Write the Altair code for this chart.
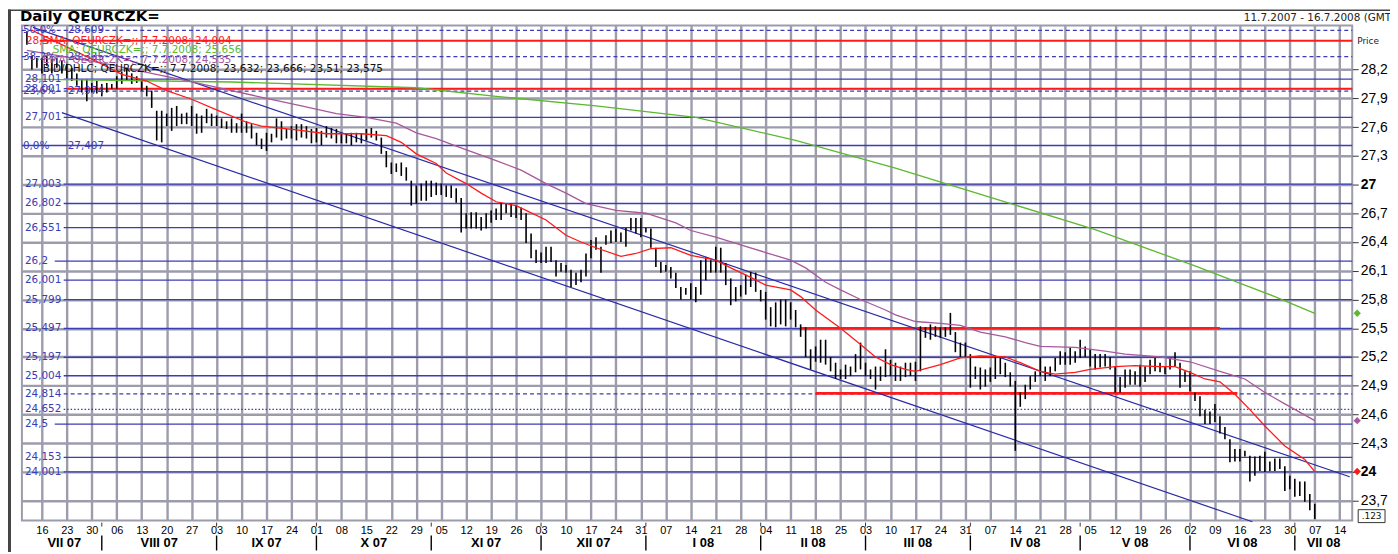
import altair as alt
import pandas as pd
import numpy as np

FIRST_DAY = "2007-07-11"   # first bar
ORIGIN = "2007-07-16"      # first Monday = session 0

# ---- daily bars (high / low), one row per week ----
bar_high = [
    28.60, 28.34, 28.32,
    28.32, 28.34, 28.31, 28.32, 28.29,
    28.26, 28.22, 28.16, 28.10, 28.10,
    28.06, 28.08, 28.05, 28.06, 28.05,
    28.13, 28.18, 28.22, 28.16, 28.13,
    28.08, 28.03, 27.98, 27.77, 27.77,
    27.74, 27.80, 27.82, 27.74, 27.75,
    27.82, 27.74, 27.72, 27.79, 27.74,
    27.72, 27.69, 27.66, 27.69, 27.64,
    27.74, 27.66, 27.63, 27.54, 27.48,
    27.54, 27.53, 27.69, 27.66, 27.58,
    27.61, 27.63, 27.63, 27.61, 27.58,
    27.59, 27.56, 27.61, 27.59, 27.58,
    27.54, 27.53, 27.54, 27.54, 27.53,
    27.58, 27.59, 27.56, 27.49, 27.35,
    27.23, 27.22, 27.23, 27.18, 27.04,
    26.99, 27.01, 27.04, 27.04, 27.02,
    27.01, 26.99, 26.99, 26.96, 26.86,
    26.70, 26.71, 26.71, 26.66, 26.70,
    26.73, 26.75, 26.81, 26.80, 26.80,
    26.78, 26.76, 26.70, 26.49, 26.32,
    26.29, 26.35, 26.35, 26.21, 26.18,
    26.16, 26.11, 26.08, 26.11, 26.28,
    26.42, 26.45, 26.35, 26.47, 26.52,
    26.54, 26.50, 26.55, 26.65, 26.65,
    26.65, 26.55, 26.54, 26.34, 26.19,
    26.16, 26.14, 26.08, 25.93, 25.92,
    25.97, 25.93, 26.21, 26.24, 26.21,
    26.35, 26.34, 26.18, 26.02, 25.93,
    25.95, 26.06, 26.09, 26.08, 25.90,
    25.88, 25.72, 25.77, 25.80, 25.80,
    25.77, 25.69, 25.54, 25.51, 25.28,
    25.31, 25.38, 25.38, 25.20, 25.14,
    25.07, 25.12, 25.10, 25.23, 25.35,
    25.14, 25.07, 25.10, 25.10, 25.28,
    25.17, 25.14, 25.10, 25.14, 25.14,
    25.15, 25.52, 25.51, 25.54, 25.52,
    25.51, 25.51, 25.66, 25.46, 25.35,
    25.35, 25.23, 25.10, 25.09, 25.07,
    25.09, 25.20, 25.19, 25.14, 25.04,
    24.95, 24.83, 24.91, 25.00, 25.05,
    25.20, 25.10, 25.10, 25.19, 25.26,
    25.25, 25.30, 25.26, 25.38, 25.31,
    25.28, 25.23, 25.23, 25.23, 25.20,
    25.10, 24.99, 25.07, 25.07, 25.05,
    25.12, 25.10, 25.17, 25.19, 25.14,
    25.10, 25.19, 25.25, 25.14, 25.05,
    25.05, 24.83, 24.79, 24.65, 24.63,
    24.71, 24.58, 24.47, 24.34, 24.24,
    24.24, 24.22, 24.17, 24.16, 24.17,
    24.21, 24.11, 24.14, 24.14, 24.06,
    23.96, 23.93, 23.90, 23.90, 23.77,
    23.666,
]
bar_low = [
    28.46, 28.20, 28.22,
    28.16, 28.24, 28.16, 28.22, 28.16,
    28.11, 28.08, 28.03, 27.96, 27.87,
    27.96, 27.95, 27.92, 27.96, 28.00,
    28.00, 28.05, 28.08, 28.05, 28.06,
    27.98, 27.92, 27.80, 27.46, 27.44,
    27.61, 27.56, 27.61, 27.63, 27.63,
    27.61, 27.53, 27.54, 27.64, 27.61,
    27.61, 27.59, 27.58, 27.54, 27.54,
    27.54, 27.54, 27.48, 27.41, 27.37,
    27.35, 27.44, 27.49, 27.46, 27.48,
    27.48, 27.46, 27.49, 27.48, 27.43,
    27.44, 27.41, 27.49, 27.48, 27.43,
    27.43, 27.43, 27.41, 27.44, 27.43,
    27.46, 27.49, 27.46, 27.32, 27.18,
    27.11, 27.13, 27.09, 27.04, 26.78,
    26.80, 26.83, 26.83, 26.87, 26.89,
    26.89, 26.87, 26.86, 26.81, 26.50,
    26.54, 26.54, 26.54, 26.52, 26.54,
    26.60, 26.63, 26.63, 26.70, 26.66,
    26.65, 26.63, 26.39, 26.23, 26.18,
    26.18, 26.18, 26.19, 26.04, 26.09,
    26.08, 25.93, 25.95, 25.98, 26.04,
    26.23, 26.32, 26.08, 26.37, 26.39,
    26.40, 26.40, 26.35, 26.52, 26.49,
    26.45, 26.50, 26.34, 26.14, 26.08,
    26.09, 26.02, 25.92, 25.80, 25.85,
    25.80, 25.77, 25.85, 26.00, 26.08,
    26.08, 26.08, 25.95, 25.74, 25.78,
    25.83, 25.85, 25.93, 25.88, 25.78,
    25.59, 25.52, 25.51, 25.54, 25.52,
    25.59, 25.51, 25.41, 25.20, 25.07,
    25.15, 25.14, 25.12, 25.05, 24.97,
    24.97, 24.97, 25.00, 25.04, 25.07,
    25.00, 24.97, 24.86, 24.95, 24.99,
    25.00, 24.95, 24.95, 24.99, 25.00,
    24.95, 25.05, 25.40, 25.38, 25.41,
    25.40, 25.41, 25.43, 25.25, 25.20,
    25.19, 24.88, 24.97, 24.86, 24.89,
    24.94, 24.97, 25.02, 24.99, 24.89,
    24.22, 24.68, 24.76, 24.86, 24.94,
    25.00, 24.95, 25.00, 25.05, 25.12,
    25.12, 25.12, 25.14, 25.19, 25.20,
    25.10, 25.07, 25.09, 25.10, 25.07,
    24.83, 24.83, 24.88, 24.91, 24.91,
    24.89, 24.94, 25.02, 25.05, 25.04,
    25.02, 25.07, 25.10, 24.88, 24.94,
    24.84, 24.74, 24.58, 24.50, 24.50,
    24.52, 24.40, 24.34, 24.10, 24.11,
    24.11, 24.16, 23.90, 23.96, 24.01,
    24.00, 24.01, 24.01, 24.03, 23.80,
    23.82, 23.74, 23.75, 23.69, 23.60,
    23.51,
]

# ---- indicator lines (session number, value) ----
sma_fast_session = [-2, 4, 10, 16, 21, 25, 30, 35, 41, 44, 51, 57, 64, 69, 72, 75, 79, 81, 85, 88,
                    91, 95, 97, 101, 105, 108, 111, 116, 119, 122, 126, 130, 135, 138, 142, 145, 150,
                    152, 155, 160, 164, 167, 170, 173, 175, 180, 184, 188, 193, 196, 200, 203, 207,
                    210, 215, 219, 224, 227, 230, 233, 236, 239, 242, 245, 249, 253, 255]
sma_fast_value = [28.61, 28.46, 28.31, 28.15, 28.08, 27.98, 27.89, 27.78, 27.65, 27.61, 27.57, 27.53,
                  27.53, 27.51, 27.44, 27.32, 27.22, 27.12, 27.01, 26.91, 26.82, 26.78, 26.73, 26.63,
                  26.47, 26.40, 26.34, 26.25, 26.28, 26.33, 26.34, 26.26, 26.21, 26.13, 26.03, 25.95,
                  25.90, 25.83, 25.69, 25.50, 25.33, 25.20, 25.12, 25.07, 25.05, 25.12, 25.19, 25.21,
                  25.20, 25.14, 25.05, 25.02, 25.04, 25.07, 25.10, 25.11, 25.10, 25.10, 25.04, 24.97,
                  24.94, 24.81, 24.65, 24.48, 24.27, 24.13, 24.004]
ema_session = [-3, 12, 31, 45, 52, 59, 65, 71, 75, 79, 83, 91, 96, 101, 105, 109, 115, 121, 127, 130,
               135, 140, 145, 150, 153, 157, 160, 164, 169, 171, 175, 180, 184, 188, 193, 197, 200,
               207, 213, 217, 224, 230, 236, 241, 245, 249, 255]
ema_value = [28.40, 28.27, 28.06, 27.90, 27.82, 27.74, 27.70, 27.64, 27.54, 27.48, 27.40, 27.25,
             27.15, 27.01, 26.91, 26.80, 26.73, 26.70, 26.60, 26.52, 26.45, 26.37, 26.29, 26.21,
             26.13, 25.98, 25.90, 25.80, 25.69, 25.64, 25.57, 25.55, 25.53, 25.46, 25.41, 25.35,
             25.31, 25.30, 25.26, 25.23, 25.20, 25.15, 25.05, 24.97, 24.83, 24.71, 24.535]
sma_slow_session = [-3, 38, 75, 91, 111, 131, 151, 171, 191, 211, 231, 241, 247, 255]
sma_slow_value = [28.10, 28.07, 28.01, 27.92, 27.82, 27.70, 27.46, 27.17, 26.85, 26.53, 26.15, 25.95,
                  25.83, 25.656]

# ---- trend channel (session, price) ----
channel_upper = [(-1.8, 28.64), (262.0, 23.95)]
channel_lower = [(4.0, 27.75), (242.5, 23.48)]

# ---- horizontal support / resistance ----
fib_pcts = ["50,0%", "38,2%", "23,6%", "0,0%"]
fib_prices = [28.609, 28.335, 27.974, 27.407]
fib_texts = ["28,609", "28,335", "27,974", "27,407"]
fib_dash = ["dash", "dash", "dash", "solid"]

level_prices = [28.101, 28.001, 27.701, 27.003, 26.802, 26.551, 26.2, 26.001, 25.799, 25.497,
                25.197, 25.004, 24.814, 24.652, 24.5, 24.153, 24.001]
level_texts = ["28,101", "28,001", "27,701", "27,003", "26,802", "26,551", "26,2", "26,001",
               "25,799", "25,497", "25,197", "25,004", "24,814", "24,652", "24,5", "24,153", "24,001"]
level_dash = ["solid", "solid", "solid", "solid", "solid", "solid", "solid", "solid", "solid",
              "solid", "solid", "solid", "dash", "dot", "solid", "solid", "solid"]

red_full_prices = [28.5, 28.0]
red_seg_prices = [25.50, 24.82]
red_seg_start = [152, 155]
red_seg_end = [236, 239.5]

# ---- axis text ----
week_labels = ["16", "23", "30", "06", "13", "20", "27", "03", "10", "17", "24", "01", "08", "15",
               "22", "29", "05", "12", "19", "26", "03", "10", "17", "24", "31", "07", "14", "21",
               "28", "04", "11", "18", "25", "03", "10", "17", "24", "31", "07", "14", "21", "28",
               "05", "12", "19", "26", "02", "09", "16", "23", "30", "07", "14"]
month_names = ["VII 07", "VIII 07", "IX 07", "X 07", "XI 07", "XII 07", "I 08", "II 08", "III 08",
               "IV 08", "V 08", "VI 08", "VII 08"]
month_start_dates = ["2007-08-01", "2007-09-03", "2007-10-01", "2007-11-01", "2007-12-03",
                     "2008-01-01", "2008-02-01", "2008-03-03", "2008-04-01", "2008-05-01",
                     "2008-06-02", "2008-07-01"]
price_ticks = [23.7, 24.0, 24.3, 24.6, 24.9, 25.2, 25.5, 25.8, 26.1, 26.4, 26.7, 27.0, 27.3, 27.6,
               27.9, 28.2]

legend_texts = ["SMA; QEURCZK=;; 7.7.2008; 24,004", "SMA; QEURCZK=;; 7.7.2008; 25,656",
                "EMA; QEURCZK=;; 7.7.2008; 24,535",
                "BID/OHLC; QEURCZK=;; 7.7.2008; 23,632; 23,666; 23,51; 23,575"]
last_values = [24.004, 25.656, 24.535]

title_text = "Daily QEURCZK="
range_text = "11.7.2007 - 16.7.2008 (GMT)"

# ------------------------------------------------------------------
RED, GREEN, PURPLE, BLUE, GRID = "#ff1a1a", "#5cb82e", "#a8589c", "#3c3cb4", "#9c9cac"
W, H = 1338, 498
DOMAIN_END = 262.5
XS = alt.Scale(domain=[-4, DOMAIN_END], nice=False, zero=False)
YS = alt.Scale(domain=[23.492, 28.66], nice=False, zero=False)

origin = np.datetime64(ORIGIN)
dates = pd.bdate_range(FIRST_DAY, periods=len(bar_high)).values.astype("datetime64[D]")
sessions = np.busday_count(origin, dates)
bars_df = pd.DataFrame({"session": sessions, "high": bar_high, "low": bar_low})

mondays = list(range(0, 5 * len(week_labels), 5))
lab_js = "[" + ",".join("'%s'" % s for s in week_labels) + "]"
xaxis = alt.Axis(values=mondays, labelExpr=f"{lab_js}[round(datum.value/5)]", grid=True,
                 gridColor=GRID, gridWidth=2.4, ticks=False, domain=False, title=None,
                 labelFont="Liberation Sans", labelFontSize=11, labelColor="#000",
                 labelPadding=4, labelOverlap=False, labelFlush=False)
yaxis = alt.Axis(orient="right", values=price_ticks, grid=True, gridColor=GRID, gridWidth=2.4,
                 tickSize=6, tickColor="#333", tickWidth=1, domain=False, title=None,
                 labelFont="Liberation Sans", labelFontSize=14, labelColor="#000",
                 labelPadding=2, labelOverlap=False, labelFlush=False,
                 labelExpr="abs(datum.value-27)<0.01 ? '27' : abs(datum.value-24)<0.01 ? '24' : "
                           "replace(format(datum.value, '.1f'), '.', ',')",
                 labelFontWeight={"condition": {"test": "abs(datum.value-27)<0.01 || abs(datum.value-24)<0.01",
                                                "value": "bold"}, "value": "normal"})


def XF(field):
    return alt.X(field, scale=XS, axis=xaxis)


def YF(field):
    return alt.Y(field, scale=YS, axis=yaxis)


layers = []


def hrule(prices, x0, dash, color=BLUE, width=1.3):
    df = pd.DataFrame({"p": prices})
    kw = {}
    if dash == "dash":
        kw["strokeDash"] = [4, 3]
    elif dash == "dot":
        kw["strokeDash"] = [1.5, 2]
    return alt.Chart(df).mark_rule(color=color, strokeWidth=width, **kw).encode(
        x=alt.value(x0), x2=alt.value(W), y=YF("p:Q"))


# base layer carrying both axes (invisible)
axis_df = pd.DataFrame({"session": [0], "p": [26.0]})
layers.append(alt.Chart(axis_df).mark_point(opacity=0).encode(x=XF("session:Q"), y=YF("p:Q")))

for k, p in enumerate(fib_prices):
    layers.append(hrule([p], 0, fib_dash[k]))
for k, p in enumerate(level_prices):
    x0 = 33 if len(level_texts[k]) <= 4 else 42
    layers.append(hrule([p], x0, level_dash[k]))

# red levels
layers.append(hrule([red_full_prices[0]], 18, "solid", RED, 2))
layers.append(hrule([red_full_prices[1]], 45, "solid", RED, 2))
red_df = pd.DataFrame({"p": red_seg_prices, "s0": red_seg_start, "s1": red_seg_end})
layers.append(alt.Chart(red_df).mark_rule(color=RED, strokeWidth=2.6).encode(
    x=XF("s0:Q"), x2="s1:Q", y=YF("p:Q")))

# channel
ch_rows = [{"line": "u", "s": s, "p": p} for s, p in channel_upper] + \
          [{"line": "l", "s": s, "p": p} for s, p in channel_lower]
layers.append(alt.Chart(pd.DataFrame(ch_rows)).mark_line(color="#2a2aa8", strokeWidth=1.2).encode(
    x=XF("s:Q"), y=YF("p:Q"), detail="line:N"))

# bars
layers.append(alt.Chart(bars_df).mark_rule(color="#000", strokeWidth=1.6).encode(
    x=XF("session:Q"), y=YF("high:Q"), y2="low:Q"))

# indicators
for ss, vv, col in [(sma_slow_session, sma_slow_value, GREEN),
                    (ema_session, ema_value, PURPLE),
                    (sma_fast_session, sma_fast_value, RED)]:
    df = pd.DataFrame({"s": ss, "v": vv})
    layers.append(alt.Chart(df).mark_line(color=col, strokeWidth=1.3).encode(
        x=XF("s:Q"), y=YF("v:Q")))


# left labels
def ltext(prices, texts, x0, color=BLUE, size=10.5, weight="normal"):
    df = pd.DataFrame({"p": prices, "t": texts})
    return alt.Chart(df).mark_text(align="left", baseline="middle", font="DejaVu Sans",
                                   fontSize=size, color=color, fontWeight=weight).encode(
        x=alt.value(x0), y=YF("p:Q"), text="t:N")


layers.append(ltext(level_prices, level_texts, 3))
layers.append(ltext(fib_prices, fib_pcts, 1))
layers.append(ltext(fib_prices, fib_texts, 46))
layers.append(ltext([red_full_prices[0]], ["28,5"], 4, RED))

# legend texts
leg_pos = [(21, 16), (31, 25), (21, 35), (21, 44)]
leg_col = [RED, GREEN, PURPLE, "#111"]
one = pd.DataFrame({"a": [0]})
for t, (px, py), c in zip(legend_texts, leg_pos, leg_col):
    layers.append(alt.Chart(one).mark_text(align="left", baseline="middle", font="DejaVu Sans",
                                           fontSize=10.5, color=c, text=t).encode(
        x=alt.value(px), y=alt.value(py)))

# right-side markers
dia_df = pd.DataFrame({"p": last_values, "c": [RED, GREEN, PURPLE]})
layers.append(alt.Chart(dia_df).mark_point(shape="diamond", filled=True, size=55, opacity=1).encode(
    x=alt.value(W + 5), y=YF("p:Q"), color=alt.Color("c:N", scale=None)))

layers.append(alt.Chart(one).mark_text(align="left", baseline="middle", font="DejaVu Sans",
                                       fontSize=9, color="#222", text="Price").encode(
    x=alt.value(W + 5), y=alt.value(16)))
layers.append(alt.Chart(one).mark_rect(fill="white", stroke="#333", strokeWidth=1).encode(
    x=alt.value(W + 6), x2=alt.value(W + 33), y=alt.value(487), y2=alt.value(500)))
layers.append(alt.Chart(one).mark_text(align="center", baseline="middle", font="DejaVu Sans",
                                       fontSize=9, color="#111", text=".123").encode(
    x=alt.value(W + 19.5), y=alt.value(493.5)))

# month row
m_sessions = [int(np.busday_count(origin, np.datetime64(d))) for d in month_start_dates]
bounds = [int(sessions[0])] + m_sessions + [DOMAIN_END]
mids = [(bounds[k] + bounds[k + 1]) / 2 for k in range(len(month_names))]
layers.append(alt.Chart(pd.DataFrame({"s": mids, "t": month_names})).mark_text(
    font="Liberation Sans", fontSize=13, fontWeight="bold", color="#000",
    baseline="middle", align="center").encode(
    x=XF("s:Q"), y=alt.value(521), text="t:N"))
sep_df = pd.DataFrame({"s": m_sessions})
layers.append(alt.Chart(sep_df).mark_rule(color="#000", strokeWidth=1.4).encode(
    x=XF("s:Q"), y=alt.value(513), y2=alt.value(528)))
layers.append(alt.Chart(sep_df).mark_rule(color="#333", strokeWidth=1).encode(
    x=XF("s:Q"), y=alt.value(500), y2=alt.value(504)))

# header texts and frame
layers.append(alt.Chart(one).mark_text(align="left", baseline="middle", font="DejaVu Sans",
                                       fontSize=15, fontWeight="bold", color="#000",
                                       text=title_text).encode(x=alt.value(-2), y=alt.value(-9)))
layers.append(alt.Chart(one).mark_text(align="left", baseline="middle", font="DejaVu Sans",
                                       fontSize=10.5, color="#222", text=range_text).encode(
    x=alt.value(1229), y=alt.value(-7)))
layers.append(alt.Chart(one).mark_rule(color="#444", strokeWidth=3).encode(
    x=alt.value(-12.5), y=alt.value(-16), y2=alt.value(532)))
layers.append(alt.Chart(one).mark_rule(color="#444", strokeWidth=1.5).encode(
    x=alt.value(-14), x2=alt.value(W + 40), y=alt.value(-15.3)))

chart = alt.layer(*layers).properties(
    width=W, height=H,
    autosize=alt.AutoSizeParams(type="none"),
    padding={"left": 14, "top": 16, "right": 38, "bottom": 30},
    background="white",
).configure_view(stroke=GRID, strokeWidth=2)

chart.save("out.html", embed_options={"renderer": "svg", "actions": False})
